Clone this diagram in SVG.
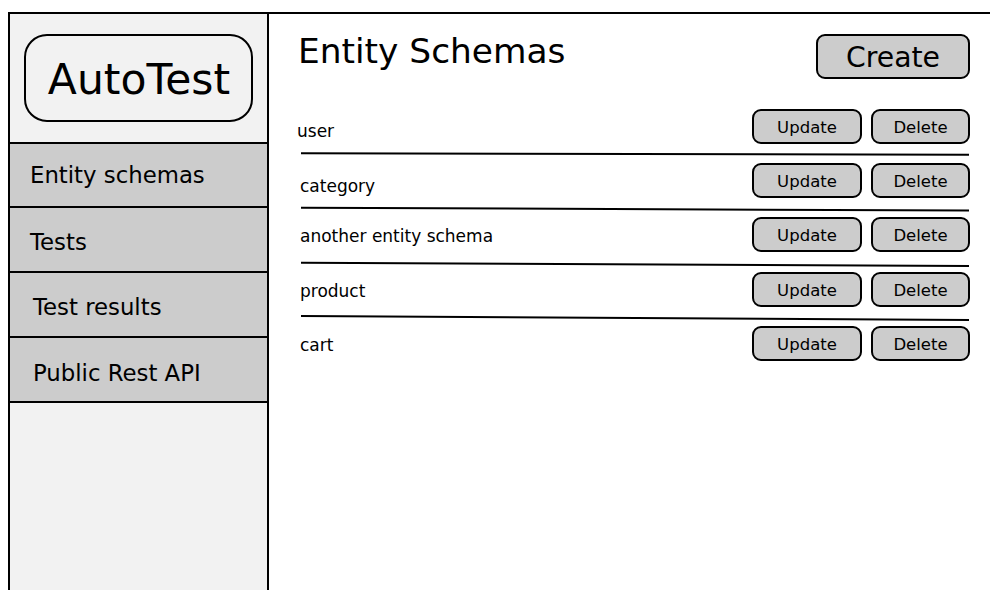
<svg xmlns="http://www.w3.org/2000/svg" width="990" height="590" viewBox="0 0 990 590">
  <style>
    text { font-family: "DejaVu Sans", "Liberation Sans", sans-serif; fill: #000; }
    .frame { fill: none; stroke: #000; stroke-width: 2; }
    .side { fill: #f2f2f2; stroke: #000; stroke-width: 2; }
    .menu { fill: #cccccc; stroke: #000; stroke-width: 2; }
    .btn { fill: #cccccc; stroke: #000; stroke-width: 2; }
    .sep { stroke: #000; stroke-width: 2; fill: none; }
    .menu-label { font-size: 22.8px; }
    .row-label { font-size: 17px; }
    .btn-label { font-size: 16.5px; text-anchor: middle; }
  </style>
  <rect width="990" height="590" fill="#ffffff"/>

  <!-- sidebar -->
  <g id="sidebar">
    <rect class="side" x="9" y="13" width="259" height="590"/>
    <line class="frame" x1="268" y1="13" x2="990" y2="13"/>
  </g>

  <g id="logo">
    <rect x="25" y="35" width="227" height="86" rx="22" ry="22" fill="#f2f2f2" stroke="#000" stroke-width="2"/>
    <text x="139" y="94" font-size="42.5" text-anchor="middle">AutoTest</text>
  </g>

  <g id="menu-entity-schemas">
    <rect class="menu" x="9" y="143" width="259" height="64"/>
    <text class="menu-label" x="30" y="183">Entity schemas</text>
  </g>
  <g id="menu-tests">
    <rect class="menu" x="9" y="207" width="259" height="65"/>
    <text class="menu-label" x="30" y="250">Tests</text>
  </g>
  <g id="menu-test-results">
    <rect class="menu" x="9" y="272" width="259" height="65"/>
    <text class="menu-label" x="33" y="315">Test results</text>
  </g>
  <g id="menu-public-api">
    <rect class="menu" x="9" y="337" width="259" height="65"/>
    <text class="menu-label" x="33" y="381">Public Rest API</text>
  </g>

  <!-- main panel -->
  <g id="title">
    <text x="298" y="63" font-size="34.4">Entity Schemas</text>
  </g>

  <g id="create-button">
    <rect class="btn" x="817" y="35" width="152" height="43" rx="8" ry="8"/>
    <text x="893" y="67" font-size="28.3" text-anchor="middle">Create</text>
  </g>

  <g id="row-user">
    <text class="row-label" x="297" y="137">user</text>
    <rect class="btn" x="753" y="110" width="108" height="33" rx="8" ry="8"/>
    <text class="btn-label" x="807" y="133">Update</text>
    <rect class="btn" x="872" y="110" width="97" height="33" rx="8" ry="8"/>
    <text class="btn-label" x="920.5" y="133">Delete</text>
  </g>
  <g id="row-category">
    <text class="row-label" x="300" y="191.5">category</text>
    <rect class="btn" x="753" y="164" width="108" height="33" rx="8" ry="8"/>
    <text class="btn-label" x="807" y="187">Update</text>
    <rect class="btn" x="872" y="164" width="97" height="33" rx="8" ry="8"/>
    <text class="btn-label" x="920.5" y="187">Delete</text>
  </g>
  <g id="row-another">
    <text class="row-label" x="300" y="242">another entity schema</text>
    <rect class="btn" x="753" y="218" width="108" height="33" rx="8" ry="8"/>
    <text class="btn-label" x="807" y="241">Update</text>
    <rect class="btn" x="872" y="218" width="97" height="33" rx="8" ry="8"/>
    <text class="btn-label" x="920.5" y="241">Delete</text>
  </g>
  <g id="row-product">
    <text class="row-label" x="300" y="296.5">product</text>
    <rect class="btn" x="753" y="273" width="108" height="33" rx="8" ry="8"/>
    <text class="btn-label" x="807" y="296">Update</text>
    <rect class="btn" x="872" y="273" width="97" height="33" rx="8" ry="8"/>
    <text class="btn-label" x="920.5" y="296">Delete</text>
  </g>
  <g id="row-cart">
    <text class="row-label" x="300" y="350.5">cart</text>
    <rect class="btn" x="753" y="327" width="108" height="33" rx="8" ry="8"/>
    <text class="btn-label" x="807" y="350">Update</text>
    <rect class="btn" x="872" y="327" width="97" height="33" rx="8" ry="8"/>
    <text class="btn-label" x="920.5" y="350">Delete</text>
  </g>

  <!-- row separators -->
  <g id="separators">
    <line class="sep" x1="301" y1="153.3" x2="969" y2="154.7"/>
    <line class="sep" x1="301" y1="207.7" x2="969" y2="210.5"/>
    <line class="sep" x1="301" y1="262.7" x2="969" y2="266"/>
    <line class="sep" x1="301" y1="316" x2="969" y2="320"/>
  </g>
</svg>
